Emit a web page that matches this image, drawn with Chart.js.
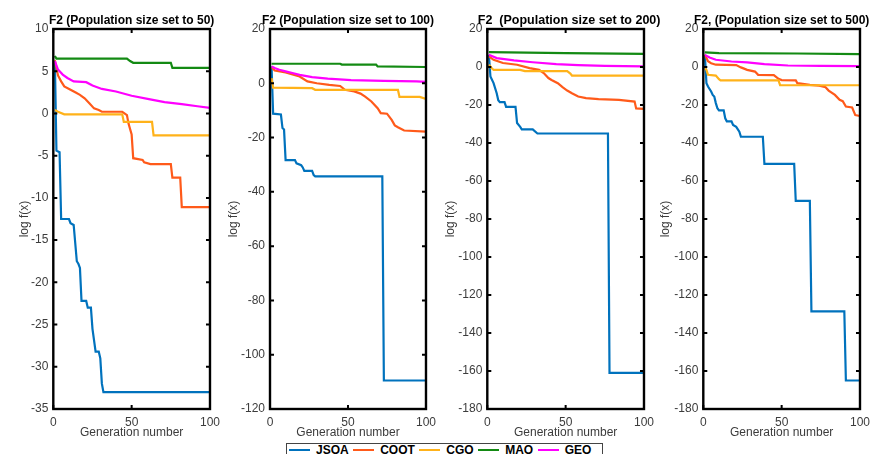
<!DOCTYPE html>
<html>
<head>
<meta charset="utf-8">
<script src="https://cdn.jsdelivr.net/npm/chart.js@4.4.1/dist/chart.umd.min.js"></script>
<style>
html,body{margin:0;padding:0;background:#fff;}
body{width:875px;height:454px;overflow:hidden;position:relative;font-family:"Liberation Sans",Arial,Helvetica,sans-serif;}
canvas{position:absolute;top:0;}
#legend{position:absolute;left:286px;top:443px;width:317px;height:18px;border:1px solid #444;box-sizing:border-box;padding-left:2px;white-space:nowrap;font-weight:bold;font-size:12px;line-height:13px;color:#000;}
#legend .it{display:inline-block;vertical-align:top;}
#legend .ln{display:inline-block;width:21px;height:2px;vertical-align:middle;margin-right:6px;position:relative;top:-1px;}
#legend .tx{display:inline-block;margin-right:4.5px;}
</style>
</head>
<body>
<div id="legend"></div>
<script>
// ---- series / categories ----
const SERIES = ['JSOA', 'COOT', 'CGO', 'MAO', 'GEO'];
const COLORS = ['#0072BD', '#FF5A1A', '#FFB21A', '#138A13', '#FF00FF'];
const TITLES = ['F2 (Population size set to 50)', 'F2 (Population size set to 100)', 'F2  (Population size set to 200)', 'F2, (Population size set to 500)'];
const X_TICKS = [0, 50, 100];
const Y_MIN = [-35, -120, -180, -180];
const Y_MAX = [10, 20, 20, 20];
const Y_STEP = [5, 20, 20, 20];

// ---- values: [generation, log f(x)] ----
// Population 50
const JSOA_50 = [[1,6.2],[2,-4.4],[4,-4.6],[5,-12.5],[10,-12.5],[11,-13],[13,-13.2],[15,-17.5],[16,-17.8],[17,-18.3],[18,-22.2],[21,-22.2],[22,-23],[24,-23],[25,-25.5],[27,-28.2],[29,-28.2],[30,-29],[31,-32],[32,-33],[100,-33]];
const COOT_50 = [[1,6.3],[3,4.5],[5,3.8],[7,3.2],[11,2.8],[14,2.5],[17,2.2],[20,1.8],[23,1.2],[26,0.6],[29,0.4],[31,0.2],[44,0.2],[47,-0.2],[48,-1.2],[50,-2.5],[51,-5.3],[57,-5.5],[58,-5.8],[62,-6],[75,-6],[76,-7.6],[81,-7.6],[82,-11.1],[100,-11.1]];
const CGO_50  = [[1,0.4],[3,0.2],[7,-0.1],[44,-0.1],[45,-1],[63,-1],[64,-2.6],[100,-2.6]];
const MAO_50  = [[1,6.8],[2,6.5],[47,6.5],[49,6.2],[51,6.0],[75,6.0],[76,5.4],[100,5.4]];
const GEO_50  = [[1,6.2],[3,5.2],[6,4.6],[9,4.2],[13,3.8],[21,3.7],[25,3.3],[31,2.9],[40,2.6],[50,2.1],[61,1.7],[71,1.35],[82,1.1],[92,0.85],[100,0.65]];
// Population 100
const JSOA_100 = [[1,6.2],[2,-11.2],[7,-11.5],[8,-16.5],[9,-17],[10,-28.3],[16,-28.3],[17,-29.5],[20,-30.2],[21,-31],[22,-32.3],[27,-32.3],[28,-33.8],[29,-34.3],[72,-34.3],[73,-109.5],[100,-109.5]];
const COOT_100 = [[1,6],[3,4.7],[10,4],[15,3.2],[19,2.5],[24,0.7],[30,0],[38,-0.6],[45,-1],[48,-2.4],[54,-3],[58,-3.8],[61,-4.9],[65,-6.7],[69,-9.2],[71,-11],[75,-11.2],[78,-13.5],[80,-15.5],[82,-16.2],[86,-17.4],[100,-17.8]];
const CGO_100  = [[1,1.9],[2,-1.6],[27,-1.8],[29,-2.4],[82,-2.4],[83,-5],[96,-5],[100,-5.8]];
const MAO_100  = [[1,7.2],[45,7.2],[46,6.9],[68,6.9],[69,6.2],[100,6.0]];
const GEO_100  = [[1,6.2],[3,5.6],[6,5.0],[10,4.4],[15,3.7],[19,3.1],[27,2.3],[37,1.7],[52,1.2],[73,0.9],[94,0.7],[100,0.5]];
// Population 200
const JSOA_200 = [[1,6.4],[2,-5],[4,-8.5],[6,-13.8],[7,-17.5],[8,-18.5],[11,-18.5],[12,-21],[18,-21],[19,-29.5],[21,-31.5],[22,-32.8],[29,-32.8],[32,-35],[77,-35],[78,-161],[100,-161]];
const COOT_200 = [[1,5.6],[4,3.8],[10,2.1],[19,1.2],[27,-0.6],[33,-1.5],[36,-3.2],[39,-5.8],[41,-6.8],[45,-8.5],[48,-10.6],[51,-12.4],[54,-13.8],[58,-15.5],[63,-16.4],[71,-16.9],[84,-17.3],[94,-18.2],[95,-21.8],[100,-22]];
const CGO_200  = [[1,1.2],[3,-0.8],[4,-1.5],[21,-1.5],[24,-2.2],[51,-2.2],[53,-3.5],[54,-4.5],[100,-4.5]];
const MAO_200  = [[1,7.8],[50,7.3],[100,6.9]];
const GEO_200  = [[1,6.4],[6,4.7],[17,3.5],[29,2.5],[44,1.5],[58,1.0],[75,0.6],[100,0.3]];
// Population 500
const JSOA_500 = [[1,6.4],[2,-8.5],[3,-10.3],[5,-12.9],[6,-14.7],[7,-15.5],[8,-19],[9,-21.7],[10,-22.8],[13,-22.8],[14,-27],[15,-28.6],[18,-28.6],[19,-30.5],[21,-31.5],[23,-34],[24,-36.7],[38,-36.7],[39,-51],[58,-51],[59,-70.5],[68,-70.5],[69,-128.6],[90,-128.6],[91,-165],[100,-165]];
const COOT_500 = [[1,6.4],[3,3],[5,2],[8,1.2],[21,1],[24,-0.2],[28,-1.5],[33,-2.4],[35,-4.1],[45,-4.3],[48,-6.2],[50,-6.9],[59,-7],[60,-8.5],[68,-9.4],[74,-9.8],[78,-10.6],[80,-12.4],[84,-14.7],[87,-17.3],[89,-18],[91,-20.8],[95,-21.3],[97,-25.3],[100,-25.8]];
const CGO_500  = [[1,-0.6],[2,-1.5],[3,-4.1],[8,-4.5],[10,-6.4],[11,-7],[48,-7],[49,-9.5],[100,-9.6]];
const MAO_500  = [[1,7.7],[10,7.3],[60,7.1],[100,6.8]];
const GEO_500  = [[1,6.4],[4,5],[8,3.8],[18,2.9],[28,2.4],[39,1.5],[54,0.8],[75,0.6],[100,0.5]];

const PANELS = [
  [JSOA_50, COOT_50, CGO_50, MAO_50, GEO_50],
  [JSOA_100, COOT_100, CGO_100, MAO_100, GEO_100],
  [JSOA_200, COOT_200, CGO_200, MAO_200, GEO_200],
  [JSOA_500, COOT_500, CGO_500, MAO_500, GEO_500]
];

// ---- layout (not data) ----
const FONT = '"Liberation Sans", Arial, Helvetica, sans-serif';
const CANVAS_LEFT = [13, 222, 439, 654];
const YAXIS_W = [40.3, 48, 48.3, 49.3];
const PLOT_W = 159;
const CANVAS_H = 444;
const TITLE_SHIFT = [0, 0, 3.5, 0];
const TITLE_SIZE = [12, 12, 12.5, 12];

const framePlugin = {
  id: 'frame',
  afterDraw(chart, args, opts) {
    const {ctx, chartArea: a, scales: {x, y}} = chart;
    ctx.save();
    ctx.strokeStyle = '#000';
    ctx.lineWidth = 2.4;
    ctx.strokeRect(a.left, a.top, a.right - a.left, a.bottom - a.top);
    ctx.lineWidth = 2;
    ctx.beginPath();
    y.ticks.forEach(t => {
      const py = y.getPixelForValue(t.value);
      ctx.moveTo(a.left, py); ctx.lineTo(a.left + 4, py);
      ctx.moveTo(a.right, py); ctx.lineTo(a.right - 4, py);
    });
    x.ticks.forEach(t => {
      const px = x.getPixelForValue(t.value);
      ctx.moveTo(px, a.bottom); ctx.lineTo(px, a.bottom - 4);
      ctx.moveTo(px, a.top); ctx.lineTo(px, a.top + 4);
    });
    ctx.stroke();
    ctx.fillStyle = '#000';
    ctx.font = 'bold ' + opts.size + 'px ' + FONT;
    ctx.textAlign = 'center';
    ctx.textBaseline = 'alphabetic';
    ctx.fillText(opts.title, (a.left + a.right) / 2 + opts.shift, 24);
    ctx.restore();
  }
};

PANELS.forEach((series, i) => {
  const canvas = document.createElement('canvas');
  const w = Math.ceil(YAXIS_W[i] + PLOT_W + 13);
  canvas.width = w; canvas.height = CANVAS_H;
  canvas.style.width = w + 'px'; canvas.style.height = CANVAS_H + 'px';
  canvas.style.left = CANVAS_LEFT[i] + 'px';
  document.body.appendChild(canvas);
  new Chart(canvas, {
    type: 'line',
    data: {
      datasets: series.map((pts, k) => ({
        label: SERIES[k],
        data: pts.map(([gx, gy]) => ({x: gx, y: gy})),
        borderColor: COLORS[k],
        backgroundColor: COLORS[k],
        borderWidth: 2.2,
        pointRadius: 0,
        tension: 0,
        fill: false,
        order: SERIES.length - 1 - k
      }))
    },
    options: {
      responsive: false,
      animation: false,
      devicePixelRatio: 1,
      layout: {padding: {top: 29, right: 13, bottom: 0, left: 0}},
      plugins: {
        legend: {display: false},
        tooltip: {enabled: false},
        title: {display: false},
        frame: {title: TITLES[i], shift: TITLE_SHIFT[i], size: TITLE_SIZE[i]}
      },
      scales: {
        x: {
          type: 'linear', min: X_TICKS[0], max: X_TICKS[X_TICKS.length - 1],
          afterBuildTicks(s) { s.ticks = X_TICKS.map(v => ({value: v})); },
          ticks: {color: '#3c3c3c', font: {size: 12, family: FONT}, padding: 6, maxRotation: 0, autoSkip: false},
          grid: {display: false, drawTicks: false},
          border: {display: false},
          title: {display: true, text: 'Generation number', color: '#3c3c3c', font: {size: 12, family: FONT}, padding: {top: 0, bottom: 4}},
          afterFit(s) { s.height = 35; }
        },
        y: {
          type: 'linear', min: Y_MIN[i], max: Y_MAX[i],
          ticks: {stepSize: Y_STEP[i], color: '#3c3c3c', font: {size: 12, family: FONT}, padding: 5, autoSkip: false},
          grid: {display: false, drawTicks: false},
          border: {display: false},
          title: {display: true, text: 'log f(x)', color: '#3c3c3c', font: {size: 12, family: FONT}, padding: {top: 4, bottom: 0}},
          afterFit(s) { s.width = YAXIS_W[i]; }
        }
      }
    },
    plugins: [framePlugin]
  });
});

// shared legend
const legend = document.getElementById('legend');
SERIES.forEach((name, k) => {
  const it = document.createElement('span');
  it.className = 'it';
  const ln = document.createElement('span');
  ln.className = 'ln';
  ln.style.background = COLORS[k];
  const tx = document.createElement('span');
  tx.className = 'tx';
  tx.textContent = name;
  it.appendChild(ln); it.appendChild(tx);
  legend.appendChild(it);
});
</script>
</body>
</html>
